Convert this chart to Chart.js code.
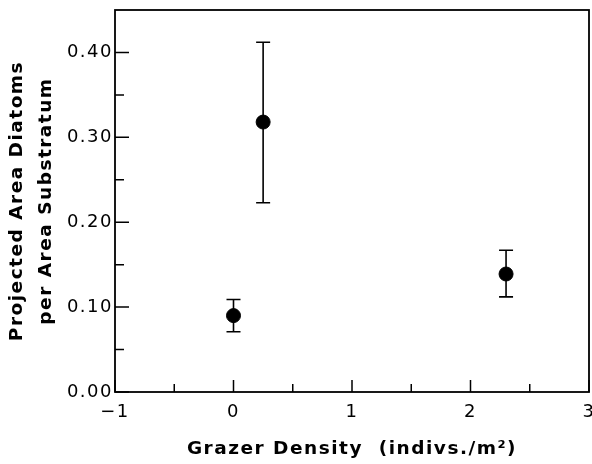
<!DOCTYPE html>
<html>
<head>
<meta charset="utf-8">
<script src="https://cdn.jsdelivr.net/npm/chart.js@4.4.1/dist/chart.umd.min.js"></script>
<style>
  html, body { margin: 0; padding: 0; background: #fff; }
  #wrap { width: 592px; height: 464px; }
</style>
</head>
<body>
<div id="wrap"><canvas id="myChart" width="592" height="464"></canvas></div>
<script>
// grazer density (x) and projected area (y), with error bar ends
const density = [0, 0.25, 2.3];
const meanArea = [0.09, 0.318, 0.139];
const upperArea = [0.109, 0.412, 0.167];
const lowerArea = [0.071, 0.223, 0.112];

const xTicks = [-1, 0, 1, 2, 3];
const xMinorTicks = [-0.5, 0.5, 1.5, 2.5];
const yTicks = [0, 0.1, 0.2, 0.3, 0.4];
const yMinorTicks = [0.05, 0.15, 0.25, 0.35];

const fontFamily = '"DejaVu Sans", "Liberation Sans", sans-serif';

function getPoints() {
    const result = [];
    for (let i = 0; i < density.length; i++) {
        result.push({ x: density[i], y: meanArea[i] });
    }
    return result;
}

// the old typeset look has wide letter spacing
const spacing = {
    id: 'spacing',
    beforeUpdate(chart) { chart.ctx.letterSpacing = '1.5px'; },
    beforeDraw(chart) { chart.ctx.letterSpacing = '1.5px'; }
};

// error bars, drawn under the dots
const errorBars = {
    id: 'errorBars',
    beforeDatasetsDraw(chart) {
        const ctx = chart.ctx;
        const xs = chart.scales.x, ys = chart.scales.y;
        ctx.save();
        ctx.strokeStyle = '#000';
        ctx.lineWidth = 1.6;
        for (let i = 0; i < density.length; i++) {
            const px = xs.getPixelForValue(density[i]);
            const top = ys.getPixelForValue(upperArea[i]);
            const bot = ys.getPixelForValue(lowerArea[i]);
            ctx.beginPath();
            ctx.moveTo(px, top); ctx.lineTo(px, bot);
            ctx.moveTo(px - 7, top); ctx.lineTo(px + 7, top);
            ctx.moveTo(px - 7, bot); ctx.lineTo(px + 7, bot);
            ctx.stroke();
        }
        ctx.restore();
    }
};

// box around plot + inward tick marks
const frameTicks = {
    id: 'frameTicks',
    afterDraw(chart) {
        const ctx = chart.ctx;
        const a = chart.chartArea;
        const xs = chart.scales.x, ys = chart.scales.y;
        ctx.save();
        ctx.strokeStyle = '#000';
        ctx.lineWidth = 1.8;
        ctx.strokeRect(a.left, a.top, a.right - a.left, a.bottom - a.top);
        ctx.lineWidth = 1.5;
        ctx.beginPath();
        xTicks.forEach(v => {
            const p = xs.getPixelForValue(v);
            ctx.moveTo(p, a.bottom); ctx.lineTo(p, a.bottom - 12);
        });
        xMinorTicks.forEach(v => {
            const p = xs.getPixelForValue(v);
            ctx.moveTo(p, a.bottom); ctx.lineTo(p, a.bottom - 8);
        });
        yTicks.forEach(v => {
            const p = ys.getPixelForValue(v);
            ctx.moveTo(a.left, p); ctx.lineTo(a.left + 14, p);
        });
        yMinorTicks.forEach(v => {
            const p = ys.getPixelForValue(v);
            ctx.moveTo(a.left, p); ctx.lineTo(a.left + 9, p);
        });
        ctx.stroke();
        ctx.restore();
    }
};

const ctx = document.getElementById('myChart');
const myChart = new Chart(ctx, {
    type: 'scatter',
    data: {
        datasets: [{
            data: getPoints(),
            backgroundColor: '#000',
            borderColor: '#000',
            pointRadius: 7,
            pointHoverRadius: 7
        }]
    },
    options: {
        responsive: false,
        animation: false,
        events: [],
        layout: { autoPadding: false, padding: { left: 0, right: 3, top: 10, bottom: 0 } },
        plugins: {
            legend: { display: false },
            tooltip: { enabled: false }
        },
        scales: {
            x: {
                type: 'linear',
                min: -1,
                max: 3,
                afterBuildTicks: (scale) => { scale.ticks = xTicks.map(v => ({ value: v })); },
                afterFit: (scale) => { scale.height = 72; scale.paddingLeft = 0; scale.paddingRight = 0; },
                grid: { display: false, drawTicks: false },
                border: { display: false },
                ticks: {
                    padding: 10,
                    color: '#000',
                    maxRotation: 0,
                    font: { family: fontFamily, size: 18 },
                    callback: (v) => v < 0 ? '\u2212' + Math.abs(v) : String(v)
                },
                title: {
                    display: true,
                    text: 'Grazer Density  (indivs./m\u00B2)',
                    color: '#000',
                    font: { family: fontFamily, size: 18.5, weight: 'bold' },
                    padding: { top: 0, bottom: 4 }
                }
            },
            y: {
                min: 0,
                max: 0.45,
                afterBuildTicks: (scale) => { scale.ticks = yTicks.map(v => ({ value: v })); },
                afterFit: (scale) => { scale.width = 115; scale.paddingTop = 0; scale.paddingBottom = 0; },
                grid: { display: false, drawTicks: false },
                border: { display: false },
                ticks: {
                    padding: 2,
                    color: '#000',
                    font: { family: fontFamily, size: 18 },
                    callback: (v) => v.toFixed(2)
                },
                title: {
                    display: true,
                    text: ['Projected Area Diatoms', 'per Area Substratum'],
                    color: '#000',
                    font: { family: fontFamily, size: 18.5, weight: 'bold', lineHeight: 1.55 },
                    padding: { top: 3, bottom: 0 }
                }
            }
        }
    },
    plugins: [spacing, errorBars, frameTicks]
});
</script>
</body>
</html>
